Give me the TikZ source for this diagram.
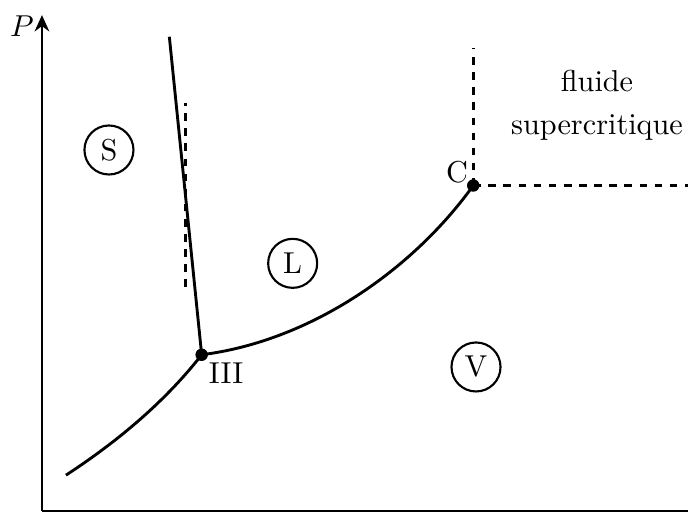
\documentclass[tikz,border=0pt]{standalone}
\usepackage{tikz}
\usetikzlibrary{arrows.meta,positioning}
\definecolor{pdInk}{HTML}{000000}
\tikzset{
  pd axis/.style={
    draw=pdInk,
    line width=.9pt,
    -{Stealth[length=1.9mm,width=1.7mm]}
  },
  pd curve/.style={draw=pdInk, line width=.95pt},
  pd guide/.style={
    draw=pdInk,
    line width=.95pt,
    dash pattern=on 2.5pt off 2.5pt
  },
  pd point/.style={circle, fill=pdInk, inner sep=0pt, minimum size=1.45mm},
  pd phase/.style={circle, draw=pdInk, line width=.7pt, inner sep=1pt,
    minimum size=5.7mm, text=pdInk},
  pd label/.style={text=pdInk}
}
\begin{document}
\begin{tikzpicture}[x=1cm,y=1cm]
  \useasboundingbox (0,0) rectangle (8,5.965);

  \coordinate (origin) at (.488,.023);
  \coordinate (ptop) at (.488,5.79);
  \coordinate (tend) at (8,.023);
  \draw[pd axis] (origin) -- (ptop);
  \draw[pd curve] (origin) -- (tend);
  \node[pd label] (plabel) at (.256,5.66) {$P$};

  \node[pd point] (triple) at (2.345,1.84) {};
  \node[pd point] (crit) at (5.503,3.808) {};
  \coordinate (sublow) at (.767,.44);
  \coordinate (fustop) at (1.969,5.538);
  \coordinate (guidetop) at (2.159,4.767);
  \coordinate (guidelow) at (2.159,2.628);
  \coordinate (critup) at (5.503,5.407);
  \coordinate (critright) at (8,3.808);

  \draw[pd curve] (sublow) .. controls (1.291,.782) and (1.880,1.244) .. (triple.center);
  \draw[pd curve] (triple.center) .. controls (3.624,2.002) and (4.806,2.837) .. (crit.center);
  \draw[pd curve] (triple.center) -- (fustop);
  \draw[pd guide] (guidelow) -- (guidetop);
  \draw[pd guide] (crit.center) -- (critup);
  \draw[pd guide] (crit.center) -- (critright);

  \node[pd label] (tlabel) at (2.628,1.628) {III};
  \node[pd label] (clabel) at (5.314,3.965) {C};
  \node[pd label, align=center] (fluid) at (6.942,4.74) {fluide\\[2.4pt]supercritique};

  \node[pd phase] (solid) at (1.267,4.221) {S};
  \node[pd phase] (liquid) at (3.403,2.903) {L};
  \node[pd phase] (vapour) at (5.535,1.698) {V};
\end{tikzpicture}
\end{document}
